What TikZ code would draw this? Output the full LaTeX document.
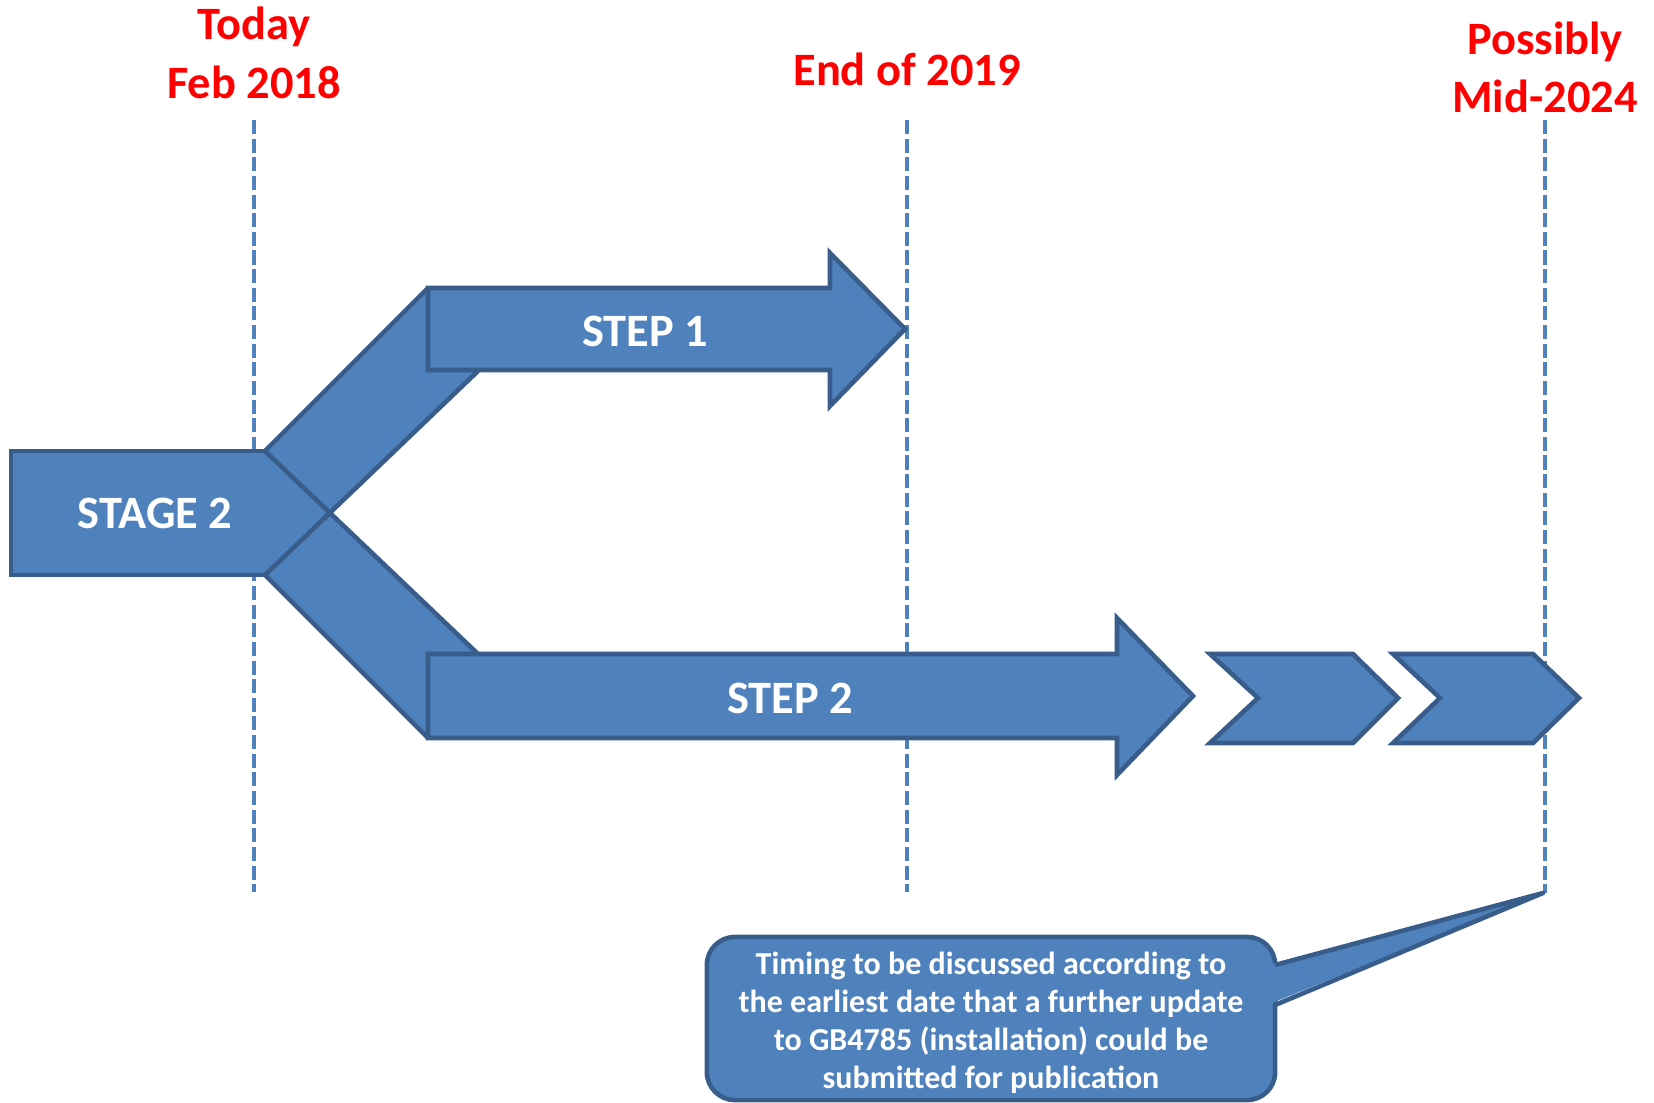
\documentclass[tikz,border=0pt]{standalone}
\usepackage{fontspec}
\setmainfont{Carlito}
\definecolor{boxfill}{HTML}{4F81BD}
\definecolor{boxline}{HTML}{385D8A}
\definecolor{datered}{HTML}{FF0000}
\begin{document}
\begin{tikzpicture}[x=0.01cm,y=-0.01cm,
  shapeline/.style={draw=boxline,line width=1.3pt,line join=miter},
  arrowshape/.style={fill=boxfill,draw=boxline,line width=1.3pt,line join=miter},
  timeline/.style={draw=boxfill,line width=1.3pt,dash pattern=on 4pt off 1.3pt},
  datelabel/.style={text=datered,font=\bfseries\fontsize{13.2}{16.6}\selectfont,align=center,inner sep=0pt,anchor=base},
  steplabel/.style={text=white,font=\bfseries\fontsize{13.2}{15}\selectfont,inner sep=0pt,anchor=base},
  calloutbox/.style={fill=boxfill,draw=boxline,line width=1.3pt,rounded corners=0.28cm,minimum width=5.68cm,minimum height=1.63cm,inner sep=0pt},
  callouttxt/.style={text=white,font=\bfseries\fontsize{9.1}{10.8}\selectfont,align=center,inner sep=0pt,anchor=base}]
\useasboundingbox (0,0) rectangle (1654,1103);

% timeline markers
\coordinate (t1top) at (254,120);  \coordinate (t1bot) at (254,892);
\coordinate (t2top) at (907,120);  \coordinate (t2bot) at (907,892);
\coordinate (t3top) at (1545,120); \coordinate (t3bot) at (1545,893);
\draw[timeline] (t1top) -- (t1bot);
\draw[timeline] (t2top) -- (t2bot);
\draw[timeline] (t3top) -- (t3bot);

% stage 2 and the two branches
\coordinate (sA) at (265,451);
\coordinate (sD) at (265,575);
\coordinate (uB) at (428,288);
\coordinate (uC) at (478,371);
\coordinate (lE) at (478,654);
\coordinate (lF) at (428,738);
\fill[boxfill] (11,451) rectangle (272,575);
\fill[boxfill] (sA) -- (uB) -- (478,288) -- (uC) -- (sD) -- cycle;
\fill[boxfill] (sA) -- (lE) -- (478,738) -- (lF) -- (sD) -- cycle;
\draw[shapeline] (sA) -- (11,451) -- (11,575) -- (sD);
\draw[shapeline] (sA) -- (uB);
\draw[shapeline] (sD) -- (uC);
\draw[shapeline] (sA) -- (lE);
\draw[shapeline] (sD) -- (lF);

% step 1 arrow
\draw[arrowshape] (428,288) -- (830,288) -- (830,253) -- (905,329) -- (830,406) -- (830,370) -- (428,370) -- cycle;
% step 2 arrow
\draw[arrowshape] (428,654) -- (1117,654) -- (1117,618) -- (1193,696) -- (1117,775) -- (1117,738) -- (428,738) -- cycle;
% chevrons
\draw[arrowshape] (1210,654) -- (1353,654) -- (1398,698) -- (1353,743) -- (1210,743) -- (1258,698) -- cycle;
\draw[arrowshape] (1393,654) -- (1533,654) -- (1579,698) -- (1533,743) -- (1393,743) -- (1440,698) -- cycle;

\node[steplabel] (stage) at (155,528) {STAGE 2};
\node[steplabel] (step1) at (645,346) {STEP 1};
\node[steplabel] (step2) at (790,713) {STEP 2};

% date labels (base = last line)
\node[datelabel] (today) at (254,98) {Today\\Feb 2018};
\node[datelabel] (end2019) at (907,85) {End of 2019};
\node[datelabel] (mid2024) at (1545,113) {Possibly\\Mid-2024};

% callout
\node[calloutbox] (callout) at (991,1018.5) {};
\coordinate (ptip) at (1543,893);
\fill[boxfill] (1267,965) -- (ptip) -- (1267,1005) -- cycle;
\draw[shapeline,line join=round] (1275,965) -- (ptip) -- (1275,1005);
\node[callouttxt] (callouttext) at (991,1088) {Timing to be discussed according to\\the earliest date that a further update\\to GB4785 (installation) could be\\submitted for publication};
\end{tikzpicture}
\end{document}
